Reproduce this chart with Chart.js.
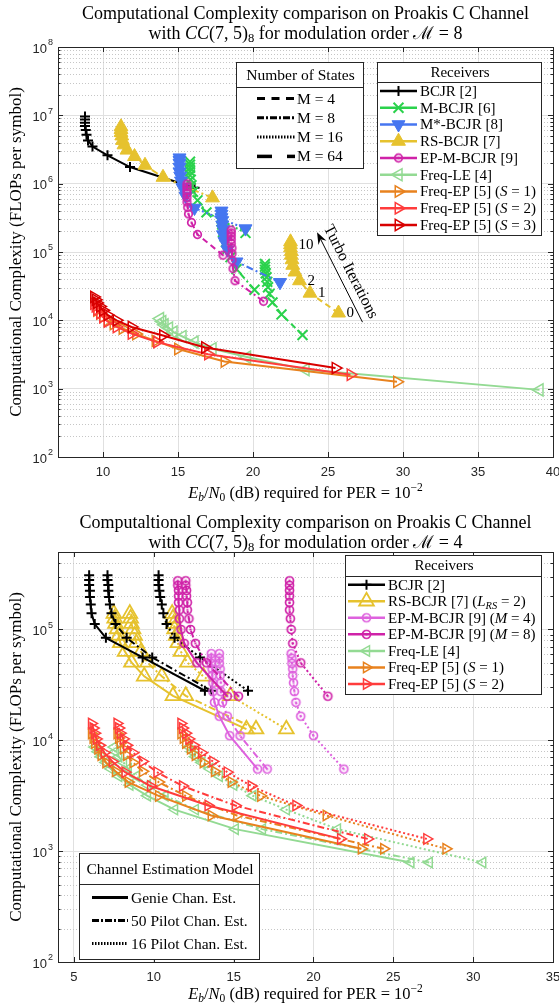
<!DOCTYPE html>
<html>
<head>
<meta charset="utf-8">
<script src="https://cdn.jsdelivr.net/npm/chart.js"></script>
<style>
  html, body { margin: 0; padding: 0; background: #fff; }
  #topBox { position: absolute; left: 0; top: 0; width: 559px; height: 505px; }
  #botBox { position: absolute; left: 0; top: 505px; width: 559px; height: 502px; }
</style>
</head>
<body>
<div id="topBox"><canvas id="chartTop"></canvas></div>
<div id="botBox"><canvas id="chartBottom"></canvas></div>
<script>
// ---------- top chart (modulation order 8), turbo iterations 0..10 ----------
const topXTicks = [10, 15, 20, 25, 30, 35, 40];
const topYDecades = [2, 3, 4, 5, 6, 7, 8];

const bcjrTopX = [16.1, 11.8, 10.3, 9.3, 9.0, 8.9, 8.85, 8.8, 8.8, 8.8, 8.8];
const bcjrTopY = [8.7e5, 1.75e6, 2.6e6, 3.5e6, 4.3e6, 5.2e6, 6.1e6, 7.0e6, 7.8e6, 8.7e6, 9.6e6];

const mbcjr16X = [19.5, 16.9, 16.3, 16.0, 15.9, 15.85, 15.8, 15.8, 15.8, 15.8, 15.8];
const mbcjr16Y = [1.9e5, 3.8e5, 5.7e5, 7.6e5, 9.5e5, 1.14e6, 1.33e6, 1.52e6, 1.71e6, 1.9e6, 2.1e6];
const mbcjr8X = [20.1, 18.9, 18.5, 18.3, 18.2, 18.1, 18.0, 18.0, 17.95, 17.9, 17.9];
const mbcjr8Y = [2.8e4, 5.6e4, 8.4e4, 1.12e5, 1.4e5, 1.68e5, 1.96e5, 2.24e5, 2.52e5, 2.8e5, 3.1e5];
const mbcjr4X = [23.3, 21.9, 21.3, 21.1, 21.0, 20.95, 20.9, 20.85, 20.8, 20.8, 20.8];
const mbcjr4Y = [6.1e3, 1.22e4, 1.83e4, 2.44e4, 3.05e4, 3.66e4, 4.27e4, 4.88e4, 5.49e4, 6.1e4, 6.7e4];

const mstar16X = [19.5, 16.1, 15.5, 15.3, 15.2, 15.15, 15.1, 15.1, 15.1, 15.1, 15.1];
const mstar16Y = [2.2e5, 4.4e5, 6.6e5, 8.8e5, 1.1e6, 1.3e6, 1.5e6, 1.75e6, 2.0e6, 2.2e6, 2.4e6];
const mstar8X = [21.8, 18.9, 18.3, 18.1, 18.0, 18.0, 17.95, 17.95, 17.9, 17.9, 17.9];
const mstar8Y = [3.6e4, 7.2e4, 1.08e5, 1.44e5, 1.8e5, 2.16e5, 2.5e5, 2.9e5, 3.2e5, 3.6e5, 4.0e5];

const rsHighX = [17.3, 14.0, 12.8, 12.1, 11.6, 11.4, 11.3, 11.25, 11.2, 11.2, 11.2];
const rsHighY = [6.2e5, 1.24e6, 1.86e6, 2.5e6, 3.1e6, 3.7e6, 4.3e6, 5.0e6, 5.6e6, 6.2e6, 6.8e6];
const rsLowX = [25.7, 23.8, 23.1, 22.8, 22.65, 22.6, 22.55, 22.55, 22.5, 22.5, 22.5];
const rsLowY = [1.28e4, 2.5e4, 3.8e4, 5.1e4, 6.4e4, 7.7e4, 9.0e4, 1.02e5, 1.15e5, 1.28e5, 1.41e5];

const epHighX = [18.0, 16.3, 15.9, 15.7, 15.65, 15.6, 15.6, 15.6, 15.6, 15.6, 15.6];
const epHighY = [9.0e4, 1.8e5, 2.7e5, 3.6e5, 4.5e5, 5.4e5, 6.3e5, 7.2e5, 8.1e5, 9.0e5, 9.9e5];
const epLowX = [20.7, 18.8, 18.67, 18.6, 18.6, 18.6, 18.55, 18.55, 18.55, 18.55, 18.55];
const epLowY = [1.9e4, 3.8e4, 5.7e4, 7.6e4, 9.5e4, 1.14e5, 1.33e5, 1.52e5, 1.71e5, 1.9e5, 2.09e5];

const freqLeTopX = [39.1, 23.5, 19.6, 17.3, 16.1, 15.3, 14.7, 14.4, 14.1, 13.95, 13.8];
const freqLeTopY = [960, 1.9e3, 2.9e3, 3.84e3, 4.8e3, 5.8e3, 6.7e3, 7.7e3, 8.6e3, 9.6e3, 1.06e4];
const freqEp1TopX = [29.6, 18.1, 15.0, 13.5, 12.2, 11.3, 10.7, 10.3, 10.0, 9.8, 9.6];
const freqEp1TopY = [1.26e3, 2.5e3, 3.8e3, 5.0e3, 6.3e3, 7.6e3, 8.8e3, 1.0e4, 1.13e4, 1.26e4, 1.39e4];
const freqEp2TopX = [26.5, 17.0, 13.6, 11.9, 10.9, 10.3, 10.0, 9.8, 9.6, 9.5, 9.4];
const freqEp2TopY = [1.6e3, 3.2e3, 4.8e3, 6.4e3, 8.0e3, 9.6e3, 1.12e4, 1.28e4, 1.44e4, 1.6e4, 1.76e4];
const freqEp3TopX = [25.5, 16.8, 14.0, 11.9, 10.9, 10.3, 10.0, 9.8, 9.6, 9.5, 9.4];
const freqEp3TopY = [2.0e3, 4.0e3, 6.0e3, 8.0e3, 1.0e4, 1.2e4, 1.4e4, 1.6e4, 1.8e4, 2.0e4, 2.2e4];

// turbo iteration arrow (data coordinates) and labelled iterations of the low RS-BCJR curve
const turboArrowFrom = [27.3, 9.4e3];
const turboArrowTo = [24.27, 1.95e5];
const turboLabelIters = [0, 1, 2, 10];

// ---------- bottom chart (modulation order 4), three channel estimates ----------
const botXTicks = [5, 10, 15, 20, 25, 30, 35];
const botYDecades = [2, 3, 4, 5];

const bcjrBotY = [2.8e4, 5.6e4, 8.4e4, 1.12e5, 1.4e5, 1.68e5, 1.96e5, 2.24e5, 2.52e5, 2.8e5, 3.08e5];
const bcjrGenieX = [13.2, 9.3, 7.0, 6.3, 6.1, 6.05, 6.0, 6.0, 5.95, 5.95, 5.95];
const bcjrP50X = [13.6, 9.9, 8.3, 7.6, 7.35, 7.25, 7.2, 7.15, 7.15, 7.1, 7.1];
const bcjrP16X = [15.9, 12.9, 11.3, 10.8, 10.6, 10.5, 10.4, 10.35, 10.3, 10.3, 10.3];

const rsBotY = [1.26e4, 2.52e4, 3.78e4, 5.04e4, 6.3e4, 7.56e4, 8.82e4, 1.01e5, 1.13e5, 1.26e5, 1.39e5];
const rsGenieX = [15.8, 11.2, 9.4, 8.6, 8.2, 7.9, 7.8, 7.7, 7.6, 7.55, 7.5];
const rsP50X = [16.4, 12.0, 10.5, 9.6, 9.2, 8.9, 8.8, 8.7, 8.6, 8.55, 8.5];
const rsP16X = [18.3, 14.8, 13.1, 12.1, 11.7, 11.5, 11.4, 11.3, 11.25, 11.2, 11.15];

const ep4BotY = [5.5e3, 1.1e4, 1.65e4, 2.2e4, 2.75e4, 3.3e4, 3.85e4, 4.4e4, 4.95e4, 5.5e4, 6.05e4];
const ep4GenieX = [16.5, 14.75, 14.1, 13.8, 13.7, 13.7, 13.65, 13.65, 13.6, 13.6, 13.6];
const ep4P50X = [17.1, 15.4, 14.6, 14.3, 14.2, 14.2, 14.15, 14.15, 14.1, 14.1, 14.1];
const ep4P16X = [21.9, 20.0, 19.2, 18.9, 18.8, 18.75, 18.7, 18.7, 18.65, 18.65, 18.6];

const ep8BotY = [2.5e4, 5.0e4, 7.5e4, 1.0e5, 1.25e5, 1.5e5, 1.75e5, 2.0e5, 2.25e5, 2.5e5, 2.75e5];
const ep8GenieX = [14.6, 12.7, 11.9, 11.7, 11.6, 11.6, 11.55, 11.55, 11.55, 11.5, 11.5];
const ep8P50X = [15.3, 13.3, 12.6, 12.3, 12.2, 12.1, 12.1, 12.05, 12.05, 12.0, 12.0];
const ep8P16X = [20.9, 19.2, 18.7, 18.6, 18.55, 18.5, 18.5, 18.5, 18.5, 18.5, 18.5];

const freqLeBotY = [790, 1580, 2370, 3160, 3950, 4740, 5530, 6320, 7110, 7900, 8690];
const freqLeGenieX = [26.1, 15.1, 11.3, 9.6, 8.5, 7.8, 7.3, 7.0, 6.7, 6.5, 6.3];
const freqLeP50X = [27.25, 16.8, 12.6, 10.7, 9.6, 8.9, 8.4, 8.1, 7.8, 7.6, 7.5];
const freqLeP16X = [30.6, 21.5, 18.3, 16.2, 15.0, 14.1, 13.5, 13.0, 12.6, 12.4, 12.2];

const freqEp1BotY = [1050, 2100, 3150, 4200, 5250, 6300, 7350, 8400, 9450, 10500, 11550];
const freqEp1GenieX = [23.0, 13.6, 10.3, 8.4, 7.6, 7.0, 6.7, 6.5, 6.3, 6.2, 6.1];
const freqEp1P50X = [24.4, 15.2, 12.0, 10.3, 9.3, 8.7, 8.3, 8.1, 7.9, 7.8, 7.7];
const freqEp1P16X = [28.3, 20.8, 16.7, 14.85, 13.8, 13.1, 12.6, 12.3, 12.0, 11.85, 11.7];

const freqEp2BotY = [1290, 2580, 3870, 5160, 6450, 7740, 9030, 10300, 11600, 12900, 14200];
const freqEp2GenieX = [21.7, 13.4, 9.8, 8.2, 7.4, 6.9, 6.6, 6.4, 6.3, 6.2, 6.1];
const freqEp2P50X = [23.4, 15.1, 11.8, 10.2, 9.3, 8.7, 8.3, 8.1, 7.9, 7.8, 7.7];
const freqEp2P16X = [27.1, 18.9, 16.1, 14.6, 13.7, 13.0, 12.5, 12.2, 12.0, 11.8, 11.7];

// ---------- styles ----------
const SERIF = '"Liberation Serif", "DejaVu Serif", serif';
const SANS = '"Liberation Sans", Arial, sans-serif';
const INK = '#262626';

const COL = {
    bcjr: '#000000',
    mbcjr: '#2ad24c',
    mstar: '#4676f0',
    rs: '#e6c22e',
    ep: '#cf22a8',
    ep4: '#de62de',
    freqLe: '#93da93',
    ep1: '#e8821e',
    ep2: '#ff3c3c',
    ep3: '#d80000'
};

const DASH = {
    solid: [],
    dashed: [6, 4],
    dashdot: [7, 3, 2, 3],
    dotted: [2, 2.5]
};

function ringStyle(color, r) {
    const c = document.createElement('canvas');
    const s = Math.ceil(2 * r + 5);
    c.width = s;
    c.height = s;
    const g = c.getContext('2d');
    g.strokeStyle = color;
    g.lineWidth = 1.7;
    g.beginPath();
    g.arc(s / 2, s / 2, r, 0, Math.PI * 2);
    g.stroke();
    g.fillStyle = color;
    g.fillRect(s / 2 - 1, s / 2 - 1, 2, 2);
    return c;
}

const MARK = {
    plus: { marker: 'cross', r: 5, mw: 2 },
    x: { marker: 'crossRot', r: 7, mw: 2 },
    down: { marker: 'triangle', rot: 180, r: 7.5, fill: true, mw: 1 },
    up: { marker: 'triangle', r: 8, fill: true, mw: 1 },
    upOpen: { marker: 'triangle', r: 8.5, mw: 1.8 },
    left: { marker: 'triangle', rot: 270, r: 7, mw: 1.5 },
    right: { marker: 'triangle', rot: 90, r: 6.5, mw: 1.5 },
    leftSmall: { marker: 'triangle', rot: 270, r: 6, mw: 1.5 },
    rightSmall: { marker: 'triangle', rot: 90, r: 6, mw: 1.5 }
};

function series(xs, ys, color, mark, dash, order, ring) {
    return {
        data: xs.map((x, i) => ({ x: x, y: ys[i] })),
        showLine: true,
        borderColor: color,
        borderWidth: 2,
        borderDash: DASH[dash],
        pointStyle: ring ? ring : mark.marker,
        rotation: mark.rot || 0,
        pointRadius: mark.r,
        pointBorderWidth: mark.mw,
        pointBorderColor: color,
        pointBackgroundColor: mark.fill ? color : 'rgba(0,0,0,0)',
        order: order,
        tension: 0
    };
}

// ---------- rich text helper (italic, sub, sup) ----------
function drawRich(ctx, parts, x, y, size, align) {
    const pieces = parts.map(([t, k]) => {
        const small = k === 'sub' || k === 'isub' || k === 'sup';
        const fs = small ? size * 0.7 : size;
        const italic = k === 'i' || k === 'isub';
        const font = (italic ? 'italic ' : '') + fs.toFixed(1) + 'px ' + SERIF;
        ctx.font = font;
        let dy = 0;
        if (k === 'sup') dy = -size * 0.36;
        else if (small) dy = size * 0.25;
        return { t, font, w: ctx.measureText(t).width, dy };
    });
    const total = pieces.reduce((a, p) => a + p.w, 0);
    let cx = align === 'left' ? x : x - total / 2;
    ctx.textAlign = 'left';
    ctx.textBaseline = 'middle';
    pieces.forEach(p => {
        ctx.font = p.font;
        ctx.fillText(p.t, cx, y + p.dy);
        cx += p.w;
    });
    return total;
}

function drawMarker(ctx, st, x, y) {
    ctx.save();
    ctx.setLineDash([]);
    if (st.ring) {
        ctx.drawImage(st.ring, x - st.ring.width / 2, y - st.ring.height / 2);
        ctx.restore();
        return;
    }
    ctx.strokeStyle = st.color;
    ctx.fillStyle = st.mark.fill ? st.color : 'rgba(0,0,0,0)';
    ctx.lineWidth = st.mark.mw;
    Chart.helpers.drawPoint(ctx, {
        pointStyle: st.mark.marker,
        rotation: st.mark.rot || 0,
        radius: st.mark.r,
        borderWidth: st.mark.mw
    }, x, y);
    ctx.restore();
}

function drawLegend(ctx, L) {
    ctx.save();
    ctx.setLineDash([]);
    ctx.fillStyle = '#fff';
    ctx.fillRect(L.x, L.y, L.w, L.h);
    ctx.strokeStyle = INK;
    ctx.lineWidth = 1;
    ctx.strokeRect(L.x + 0.5, L.y + 0.5, L.w, L.h);
    ctx.beginPath();
    ctx.moveTo(L.x, L.y + L.headH + 0.5);
    ctx.lineTo(L.x + L.w, L.y + L.headH + 0.5);
    ctx.stroke();
    ctx.fillStyle = '#000';
    drawRich(ctx, [[L.title, 'r']], L.x + L.w / 2 + 1, L.y + L.headH / 2 + 1, L.size);
    L.items.forEach((it, i) => {
        const yy = L.y + L.first + i * L.step;
        ctx.strokeStyle = it.color;
        ctx.lineWidth = it.lw || 2.5;
        ctx.setLineDash(it.dash || []);
        ctx.beginPath();
        ctx.moveTo(L.x + L.line0, yy);
        ctx.lineTo(L.x + L.line1, yy);
        ctx.stroke();
        ctx.setLineDash([]);
        if (it.mark) drawMarker(ctx, it, L.x + (L.line0 + L.line1) / 2, yy);
        ctx.fillStyle = '#000';
        drawRich(ctx, it.label, L.x + L.text, yy + 1, L.size, 'left');
    });
    ctx.restore();
}

// ---------- axes decoration plugin ----------
function decorPlugin(cfg) {
    return {
        id: 'decor',
        beforeDatasetsDraw(chart) {
            const ctx = chart.ctx, a = chart.chartArea, ys = chart.scales.y;
            ctx.save();
            ctx.strokeStyle = '#c6c6c6';
            ctx.lineWidth = 1;
            ctx.setLineDash([1, 2]);
            const top = Math.log10(ys.max);
            for (let e = cfg.decades[0]; e < top; e++) {
                for (let k = 2; k <= 9; k++) {
                    const v = k * Math.pow(10, e);
                    if (v >= ys.max) continue;
                    const py = Math.round(ys.getPixelForValue(v)) + 0.5;
                    ctx.beginPath();
                    ctx.moveTo(a.left, py);
                    ctx.lineTo(a.right, py);
                    ctx.stroke();
                }
            }
            ctx.restore();
        },
        afterDraw(chart) {
            const ctx = chart.ctx, a = chart.chartArea;
            const xs = chart.scales.x, ys = chart.scales.y;
            ctx.save();
            // frame
            ctx.strokeStyle = INK;
            ctx.lineWidth = 1;
            ctx.setLineDash([]);
            ctx.strokeRect(Math.round(a.left) + 0.5, Math.round(a.top) + 0.5,
                Math.round(a.right - a.left), Math.round(a.bottom - a.top));
            // inward ticks
            ctx.beginPath();
            cfg.xTicks.forEach(v => {
                const px = Math.round(xs.getPixelForValue(v)) + 0.5;
                ctx.moveTo(px, a.bottom); ctx.lineTo(px, a.bottom - 5);
                ctx.moveTo(px, a.top); ctx.lineTo(px, a.top + 5);
            });
            const top = Math.log10(ys.max);
            for (let e = cfg.decades[0]; e <= top; e++) {
                for (let k = 1; k <= 9; k++) {
                    const v = k * Math.pow(10, e);
                    if (v > ys.max) continue;
                    const len = k === 1 ? 5 : 2.5;
                    const py = Math.round(ys.getPixelForValue(v)) + 0.5;
                    ctx.moveTo(a.left, py); ctx.lineTo(a.left + len, py);
                    ctx.moveTo(a.right, py); ctx.lineTo(a.right - len, py);
                }
            }
            ctx.stroke();
            // tick labels
            ctx.fillStyle = INK;
            ctx.font = '13px ' + SANS;
            ctx.textAlign = 'center';
            ctx.textBaseline = 'middle';
            cfg.xTicks.forEach(v => ctx.fillText(String(v), xs.getPixelForValue(v), a.bottom + 15));
            cfg.decades.forEach(e => {
                const py = ys.getPixelForValue(Math.pow(10, e));
                ctx.font = '13px ' + SANS;
                ctx.textAlign = 'right';
                ctx.fillText('10', a.left - 11, py + 2);
                ctx.font = '9px ' + SANS;
                ctx.textAlign = 'left';
                ctx.fillText(String(e), a.left - 10, py - 4);
            });
            // titles and axis labels
            ctx.fillStyle = '#000';
            const cx = (a.left + a.right) / 2;
            drawRich(ctx, cfg.title1, cx, cfg.titleY[0], 18);
            drawRich(ctx, cfg.title2, cx, cfg.titleY[1], 18);
            drawRich(ctx, [['E', 'i'], ['b', 'isub'], ['/', 'r'], ['N', 'i'], ['0', 'sub'],
                [' (dB) required for PER = 10', 'r'], ['\u22122', 'sup']], cx, a.bottom + cfg.xLabelGap, 16.5);
            ctx.save();
            ctx.translate(17, (a.top + a.bottom) / 2);
            ctx.rotate(-Math.PI / 2);
            drawRich(ctx, [['Computational Complexity (FLOPs per symbol)', 'r']], 0, 0, 17);
            ctx.restore();
            if (cfg.extra) cfg.extra(chart, ctx);
            cfg.legends.forEach(L => drawLegend(ctx, L));
            ctx.restore();
        }
    };
}

function baseOptions(xMin, xMax, yMin, yMax, xTicks, decades, padTop, xHeight) {
    return {
        responsive: true,
        maintainAspectRatio: false,
        animation: false,
        events: [],
        layout: { padding: { top: padTop, right: 6, left: 0, bottom: 0 }, autoPadding: false },
        plugins: { legend: { display: false }, tooltip: { enabled: false }, title: { display: false } },
        scales: {
            x: {
                type: 'linear', min: xMin, max: xMax,
                afterBuildTicks: s => { s.ticks = xTicks.map(v => ({ value: v })); },
                afterFit: s => { s.height = xHeight; },
                ticks: { display: false },
                grid: { color: '#e0e0e0', lineWidth: 1, drawTicks: false },
                border: { display: false }
            },
            y: {
                type: 'logarithmic', min: yMin, max: yMax,
                afterBuildTicks: s => { s.ticks = decades.map(e => ({ value: Math.pow(10, e) })); },
                afterFit: s => { s.width = 58; },
                ticks: { display: false },
                grid: { color: '#e0e0e0', lineWidth: 1, drawTicks: false },
                border: { display: false }
            }
        }
    };
}

function sLabel(n) {
    return [['Freq-EP [5] (', 'r'], ['S', 'i'], [' = ' + n + ')', 'r']];
}

// ---------- top chart ----------
const epRingTop = ringStyle(COL.ep, 3.8);
const topDatasets = [
    series(epHighX, epHighY, COL.ep, {}, 'dashed', 1, epRingTop),
    series(epLowX, epLowY, COL.ep, {}, 'dashdot', 1, epRingTop),
    series(mstar16X, mstar16Y, COL.mstar, MARK.down, 'dotted', 2),
    series(mstar8X, mstar8Y, COL.mstar, MARK.down, 'dashdot', 2),
    series(mbcjr16X, mbcjr16Y, COL.mbcjr, MARK.x, 'dotted', 3),
    series(mbcjr8X, mbcjr8Y, COL.mbcjr, MARK.x, 'dashdot', 3),
    series(mbcjr4X, mbcjr4Y, COL.mbcjr, MARK.x, 'dashed', 3),
    series(rsHighX, rsHighY, COL.rs, MARK.up, 'dashdot', 4),
    series(rsLowX, rsLowY, COL.rs, MARK.up, 'dashed', 4),
    series(bcjrTopX, bcjrTopY, COL.bcjr, MARK.plus, 'solid', 5),
    series(freqEp3TopX, freqEp3TopY, COL.ep3, MARK.right, 'solid', 6),
    series(freqEp2TopX, freqEp2TopY, COL.ep2, MARK.right, 'solid', 7),
    series(freqEp1TopX, freqEp1TopY, COL.ep1, MARK.right, 'solid', 8),
    series(freqLeTopX, freqLeTopY, COL.freqLe, MARK.left, 'solid', 9)
];

function turboAnnotation(chart, ctx) {
    const xs = chart.scales.x, ys = chart.scales.y;
    const x0 = xs.getPixelForValue(turboArrowFrom[0]), y0 = ys.getPixelForValue(turboArrowFrom[1]);
    const x1 = xs.getPixelForValue(turboArrowTo[0]), y1 = ys.getPixelForValue(turboArrowTo[1]);
    const len = Math.hypot(x1 - x0, y1 - y0);
    const ux = (x1 - x0) / len, uy = (y1 - y0) / len;
    ctx.save();
    ctx.strokeStyle = '#000';
    ctx.fillStyle = '#000';
    ctx.lineWidth = 1;
    ctx.beginPath();
    ctx.moveTo(x0, y0);
    ctx.lineTo(x1 - ux * 8, y1 - uy * 8);
    ctx.stroke();
    ctx.beginPath();
    ctx.moveTo(x1, y1);
    ctx.lineTo(x1 - ux * 12 - uy * 4.5, y1 - uy * 12 + ux * 4.5);
    ctx.lineTo(x1 - ux * 8, y1 - uy * 8);
    ctx.lineTo(x1 - ux * 12 + uy * 4.5, y1 - uy * 12 - ux * 4.5);
    ctx.closePath();
    ctx.fill();
    // text reads downward along the arrow, on its right side
    const dx = -ux, dy = -uy;
    const mx = (x0 + x1) / 2 + dy * 12, my = (y0 + y1) / 2 - dx * 12;
    ctx.translate(mx, my);
    ctx.rotate(Math.atan2(dy, dx));
    drawRich(ctx, [['Turbo Iterations', 'r']], 0, 0, 16);
    ctx.restore();
    turboLabelIters.forEach(i => {
        const px = xs.getPixelForValue(rsLowX[i]), py = ys.getPixelForValue(rsLowY[i]);
        ctx.fillStyle = '#000';
        drawRich(ctx, [[String(i), 'r']], px + 8, py + (i === 10 ? 3 : 0), 15, 'left');
    });
}

const topLegends = [
    {
        x: 236, y: 62, w: 127, h: 106, headH: 25, title: 'Number of States', size: 15.5,
        first: 36.5, step: 19.3, line0: 21, line1: 59, text: 61,
        items: [
            { color: '#000', lw: 3, dash: [8, 6.5], label: [['M = 4', 'r']] },
            { color: '#000', lw: 3, dash: [7, 2, 2, 2], label: [['M = 8', 'r']] },
            { color: '#000', lw: 3, dash: [1.5, 1.5], label: [['M = 16', 'r']] },
            { color: '#000', lw: 3.5, dash: [15, 15], label: [['M = 64', 'r']] }
        ]
    },
    {
        x: 377, y: 62, w: 164, h: 173, headH: 20, title: 'Receivers', size: 15,
        first: 29, step: 16.75, line0: 3, line1: 40, text: 43,
        items: [
            { color: COL.bcjr, mark: MARK.plus, label: [['BCJR [2]', 'r']] },
            { color: COL.mbcjr, mark: MARK.x, label: [['M-BCJR [6]', 'r']] },
            { color: COL.mstar, mark: MARK.down, label: [['M*-BCJR [8]', 'r']] },
            { color: COL.rs, mark: MARK.up, label: [['RS-BCJR [7]', 'r']] },
            { color: COL.ep, mark: {}, ring: epRingTop, label: [['EP-M-BCJR [9]', 'r']] },
            { color: COL.freqLe, mark: MARK.left, label: [['Freq-LE [4]', 'r']] },
            { color: COL.ep1, mark: MARK.right, label: sLabel(1) },
            { color: COL.ep2, mark: MARK.right, label: sLabel(2) },
            { color: COL.ep3, mark: MARK.right, label: sLabel(3) }
        ]
    }
];

new Chart(document.getElementById('chartTop'), {
    type: 'scatter',
    data: { datasets: topDatasets },
    options: baseOptions(7, 40, 1e2, 1e8, topXTicks, topYDecades, 47, 48),
    plugins: [decorPlugin({
        xTicks: topXTicks,
        decades: topYDecades,
        titleY: [14, 34],
        xLabelGap: 37,
        title1: [['Computational Complexity comparison on Proakis C Channel', 'r']],
        title2: [['with ', 'r'], ['CC', 'i'], ['(7, 5)', 'r'], ['8', 'sub'],
            [' for modulation order ', 'r'], ['\u2133', 'r'], [' = 8', 'r']],
        extra: turboAnnotation,
        legends: topLegends
    })]
});

// ---------- bottom chart ----------
const ep4Ring = ringStyle(COL.ep4, 4);
const ep8Ring = ringStyle(COL.ep, 4);
const estStyles = ['solid', 'dashdot', 'dotted'];

function threeEstimates(xsList, ys, color, mark, order, ring) {
    return xsList.map((xs, i) => series(xs, ys, color, mark, estStyles[i], order, ring));
}

const botDatasets = [].concat(
    threeEstimates([ep8GenieX, ep8P50X, ep8P16X], ep8BotY, COL.ep, {}, 1, ep8Ring),
    threeEstimates([ep4GenieX, ep4P50X, ep4P16X], ep4BotY, COL.ep4, {}, 2, ep4Ring),
    threeEstimates([bcjrGenieX, bcjrP50X, bcjrP16X], bcjrBotY, COL.bcjr, MARK.plus, 3),
    threeEstimates([rsGenieX, rsP50X, rsP16X], rsBotY, COL.rs, MARK.upOpen, 4),
    threeEstimates([freqEp2GenieX, freqEp2P50X, freqEp2P16X], freqEp2BotY, COL.ep2, MARK.rightSmall, 5),
    threeEstimates([freqEp1GenieX, freqEp1P50X, freqEp1P16X], freqEp1BotY, COL.ep1, MARK.rightSmall, 6),
    threeEstimates([freqLeGenieX, freqLeP50X, freqLeP16X], freqLeBotY, COL.freqLe, MARK.leftSmall, 7)
);

const botLegends = [
    {
        x: 345, y: 50, w: 196, h: 139, headH: 21, title: 'Receivers', size: 15,
        first: 29.7, step: 16.55, line0: 3, line1: 40, text: 43,
        items: [
            { color: COL.bcjr, mark: MARK.plus, label: [['BCJR [2]', 'r']] },
            { color: COL.rs, mark: MARK.upOpen, label: [['RS-BCJR [7] (', 'r'], ['L', 'i'], ['RS', 'isub'], [' = 2)', 'r']] },
            { color: COL.ep4, mark: {}, ring: ep4Ring, label: [['EP-M-BCJR [9] (', 'r'], ['M', 'i'], [' = 4)', 'r']] },
            { color: COL.ep, mark: {}, ring: ep8Ring, label: [['EP-M-BCJR [9] (', 'r'], ['M', 'i'], [' = 8)', 'r']] },
            { color: COL.freqLe, mark: MARK.leftSmall, label: [['Freq-LE [4]', 'r']] },
            { color: COL.ep1, mark: MARK.rightSmall, label: sLabel(1) },
            { color: COL.ep2, mark: MARK.rightSmall, label: sLabel(2) }
        ]
    },
    {
        x: 79, y: 348, w: 180, h: 106, headH: 31, title: 'Channel Estimation Model', size: 15.5,
        first: 44.5, step: 23, line0: 13, line1: 49, text: 52,
        items: [
            { color: '#000', lw: 3, dash: [], label: [['Genie Chan. Est.', 'r']] },
            { color: '#000', lw: 3, dash: [7, 2, 2, 2], label: [['50 Pilot Chan. Est.', 'r']] },
            { color: '#000', lw: 3, dash: [1.5, 1.5], label: [['16 Pilot Chan. Est.', 'r']] }
        ]
    }
];

new Chart(document.getElementById('chartBottom'), {
    type: 'scatter',
    data: { datasets: botDatasets },
    options: baseOptions(4, 35, 1e2, 5e5, botXTicks, botYDecades, 47, 45),
    plugins: [decorPlugin({
        xTicks: botXTicks,
        decades: botYDecades,
        titleY: [18, 38],
        xLabelGap: 33,
        title1: [['Computaltional Complexity comparison on Proakis C Channel', 'r']],
        title2: [['with ', 'r'], ['CC', 'i'], ['(7, 5)', 'r'], ['8', 'sub'],
            [' for modulation order ', 'r'], ['\u2133', 'r'], [' = 4', 'r']],
        legends: botLegends
    })]
});
</script>
</body>
</html>
